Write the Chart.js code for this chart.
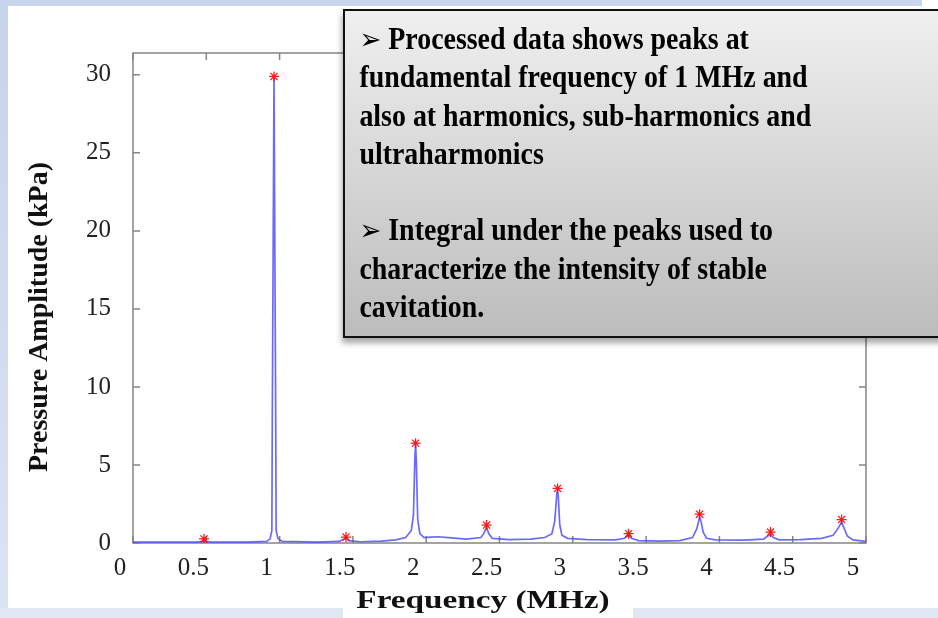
<!DOCTYPE html>
<html>
<head>
<meta charset="utf-8">
<script src="https://cdn.jsdelivr.net/npm/chart.js@4.4.1/dist/chart.umd.min.js"></script>
<style>
  html, body { margin: 0; padding: 0; }
  body { width: 938px; height: 618px; overflow: hidden; position: relative; background: #dfe6f4; }
  .faixa-topo { position: absolute; left: 0; top: 0; width: 938px; height: 6px; background: #c7d5ed; }
  .faixa-esq { position: absolute; left: 0; top: 0; width: 8px; height: 608px; background: linear-gradient(#c6d3ec, #dbe3f3); }
  .painel { position: absolute; left: 8px; top: 6px; width: 930px; height: 602px; background: #fff; }
  .canto { position: absolute; left: 922px; top: 0; width: 16px; height: 6px; background: #fff; }
  canvas { position: absolute; left: 0; top: 0; }
  .caixa {
    position: absolute; left: 343px; top: 9px; width: 640px; height: 325px;
    border: 2px solid #111;
    background: linear-gradient(#efefef, #bcbcbc);
    box-shadow: -1px 5px 6px rgba(0,0,0,0.35);
    box-sizing: content-box;
  }
  .caixa .txt {
    padding: 9px 0 0 16px;
    font: bold 31px "Liberation Serif", "Times New Roman", serif;
    line-height: 38.3px;
    color: #000;
    white-space: nowrap;
    transform: scaleX(0.9);
    transform-origin: left top;
  }
  .seta { font-family: "DejaVu Sans", sans-serif; font-size: 29px; }
</style>
</head>
<body>
<div class="faixa-topo"></div>
<div class="faixa-esq"></div>
<div class="painel"></div>
<div class="canto"></div>
<canvas id="grafico" width="938" height="618"></canvas>
<div class="caixa">
  <div class="txt">
    <span class="seta">&#10146;</span> Processed data shows peaks at<br>
    fundamental frequency of 1 MHz and<br>
    also at harmonics, sub-harmonics and<br>
    ultraharmonics<br>
    <br>
    <span class="seta">&#10146;</span> Integral under the peaks used to<br>
    characterize the intensity of stable<br>
    cavitation.
  </div>
</div>

<script>
// --- DADOS ---
const FREQ_MHZ = [
  0, 0.2, 0.45, 0.5, 0.55, 0.8, 0.94, 0.965, 0.978, 0.981, 0.993, 1.005, 1.008, 1.02, 1.05,
  1.3, 1.45, 1.49, 1.5, 1.52, 1.6, 1.75, 1.85, 1.92, 1.96, 1.975, 1.985, 1.99, 1.995, 2.005, 2.02, 2.05,
  2.1, 2.15, 2.22, 2.35, 2.45, 2.47, 2.49, 2.505, 2.53, 2.65, 2.8, 2.9, 2.95, 2.97, 2.985, 2.99, 2.995,
  3.005, 3.02, 3.06, 3.2, 3.4, 3.46, 3.49, 3.51, 3.56, 3.7, 3.85, 3.94, 3.97, 3.99, 4.0, 4.015, 4.04,
  4.1, 4.3, 4.44, 4.47, 4.49, 4.51, 4.55, 4.7, 4.85, 4.93, 4.97, 4.99, 5.005, 5.03, 5.07, 5.16
];
const PRESSAO_KPA = [
  0.05, 0.05, 0.06, 0.1, 0.06, 0.06, 0.1, 0.25, 0.8, 8, 29.8, 8, 0.8, 0.3, 0.1,
  0.06, 0.1, 0.25, 0.32, 0.15, 0.08, 0.12, 0.2, 0.35, 0.8, 1.8, 5.5, 6.3, 5.3, 1.5, 0.6, 0.35,
  0.38, 0.4, 0.35, 0.25, 0.35, 0.6, 1.0, 0.6, 0.3, 0.22, 0.25, 0.35, 0.6, 1.4, 3.2, 3.3, 3.0,
  1.2, 0.5, 0.3, 0.22, 0.2, 0.3, 0.5, 0.3, 0.15, 0.12, 0.15, 0.35, 0.9, 1.65, 1.4, 0.7, 0.3,
  0.2, 0.18, 0.25, 0.45, 0.55, 0.35, 0.2, 0.22, 0.3, 0.5, 1.0, 1.35, 1.0, 0.45, 0.2, 0.1
];

// picos marcados com asterisco
const PICO_FREQ = [0.5, 0.993, 1.5, 1.99, 2.49, 2.99, 3.49, 3.99, 4.49, 4.99];
const PICO_KPA = [0.26, 29.9, 0.38, 6.4, 1.15, 3.5, 0.6, 1.85, 0.7, 1.5];

// eixos
const X_MAX = 5.162;
const Y_MAX = 31.4;
const X_TICK_LABELS = ["0", "0.5", "1", "1.5", "2", "2.5", "3", "3.5", "4", "4.5", "5"];
const Y_TICKS = [0, 5, 10, 15, 20, 25, 30];

const FONTE = '"Liberation Serif", "Times New Roman", serif';

// caixa estilo matlab com ticks para dentro
const caixaEixos = {
  id: "caixaEixos",
  beforeDatasetsDraw(chart) {
    const { ctx, chartArea: a, scales: { x, y } } = chart;
    ctx.save();
    ctx.strokeStyle = "#858585";
    ctx.lineWidth = 1.5;
    ctx.strokeRect(a.left, a.top, a.right - a.left, a.bottom - a.top);
    ctx.beginPath();
    x.ticks.forEach(t => {
      const px = x.getPixelForValue(t.value);
      ctx.moveTo(px, a.bottom); ctx.lineTo(px, a.bottom - 7);
      ctx.moveTo(px, a.top); ctx.lineTo(px, a.top + 7);
    });
    y.ticks.forEach(t => {
      const py = y.getPixelForValue(t.value);
      ctx.moveTo(a.left, py); ctx.lineTo(a.left + 7, py);
      ctx.moveTo(a.right, py); ctx.lineTo(a.right - 7, py);
    });
    ctx.stroke();
    ctx.restore();
  }
};

// titulos dos eixos
const titulos = {
  id: "titulos",
  afterDraw(chart) {
    const ctx = chart.ctx;
    ctx.save();
    // fundo branco atras do titulo x
    ctx.fillStyle = "#fff";
    ctx.fillRect(343, 585, 290, 33);

    ctx.fillStyle = "#111";
    ctx.font = "bold 25px " + FONTE;
    ctx.textAlign = "center";
    ctx.textBaseline = "alphabetic";
    ctx.save();
    ctx.translate(483, 608);
    ctx.scale(1.33, 1);
    ctx.fillText("Frequency (MHz)", 0, 0);
    ctx.restore();

    ctx.font = "bold 28px " + FONTE;
    ctx.textBaseline = "middle";
    ctx.translate(40, 317);
    ctx.rotate(-Math.PI / 2);
    ctx.fillText("Pressure Amplitude (kPa)", 0, 0);
    ctx.restore();
  }
};

const ctx = document.getElementById("grafico").getContext("2d");

new Chart(ctx, {
  type: "scatter",
  data: {
    datasets: [
      {
        label: "picos",
        data: PICO_FREQ.map((f, i) => ({ x: f, y: PICO_KPA[i] })),
        pointStyle: "star",
        pointRadius: 5,
        borderColor: "rgba(255, 0, 0, 0.9)",
        backgroundColor: "rgba(255, 0, 0, 0.9)",
        borderWidth: 1.3,
        order: 0
      },
      {
        label: "espectro",
        data: FREQ_MHZ.map((f, i) => ({ x: f, y: PRESSAO_KPA[i] })),
        showLine: true,
        pointRadius: 0,
        borderColor: "rgba(80, 80, 255, 0.85)",
        borderWidth: 1.7,
        tension: 0,
        order: 1
      }
    ]
  },
  options: {
    responsive: false,
    animation: false,
    layout: { padding: { left: 0, top: 53, right: 72, bottom: 0 } },
    plugins: {
      legend: { display: false },
      tooltip: { enabled: false }
    },
    scales: {
      x: {
        type: "linear",
        min: 0,
        max: X_MAX,
        afterBuildTicks: (scale) => {
          scale.ticks = X_TICK_LABELS.map((l, i) => ({ value: i * X_MAX / 10 }));
        },
        afterFit: (scale) => { scale.height = 75; },
        grid: { display: false, drawTicks: false },
        border: { display: false },
        ticks: {
          autoSkip: false,
          maxRotation: 0,
          padding: 10,
          labelOffset: -13,
          color: "#222",
          font: { family: FONTE, size: 25 },
          callback: (v, i) => X_TICK_LABELS[i]
        }
      },
      y: {
        min: 0,
        max: Y_MAX,
        afterBuildTicks: (scale) => {
          scale.ticks = Y_TICKS.map(v => ({ value: v }));
        },
        afterFit: (scale) => { scale.width = 133; },
        grid: { display: false, drawTicks: false },
        border: { display: false },
        ticks: {
          padding: 22,
          color: "#222",
          font: { family: FONTE, size: 25 },
          callback: (v) => String(v)
        }
      }
    }
  },
  plugins: [caixaEixos, titulos]
});
</script>
</body>
</html>
